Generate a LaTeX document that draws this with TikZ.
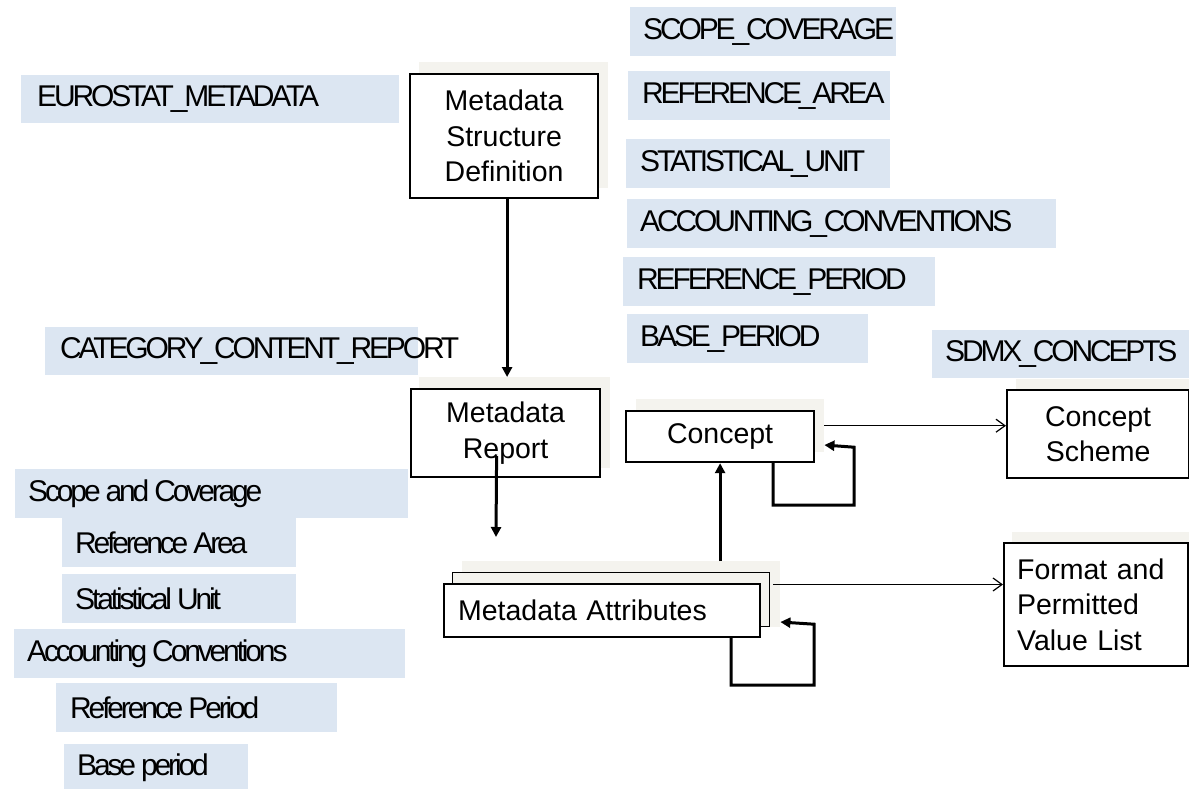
\documentclass[tikz,border=0pt]{standalone}
\usepackage{fontspec}
\setmainfont{Liberation Sans}
\newfontfamily\condfont[LetterSpace=-10.5]{Liberation Sans}
\usetikzlibrary{arrows.meta}
\definecolor{lblue}{HTML}{DCE6F2}
\definecolor{shad}{HTML}{F4F3EE}
\newcommand\wsp{\kern5pt}
\tikzset{
  lbl/.style={fill=lblue, anchor=north west, inner ysep=0pt, align=left, font=\condfont\fontsize{30}{34}\selectfont},
  shadowbox/.style={fill=shad, anchor=north west, inner sep=0pt},
  mainbox/.style={draw=black, fill=white, line width=2.2pt, anchor=north west, inner sep=0pt, align=center, font=\fontsize{28.5}{35.5}\selectfont},
  thk/.style={line width=3pt, -{Triangle[length=10pt,width=10pt]}},
  thn/.style={line width=1.2pt, -{Straight Barb[length=9pt,width=13pt]}},
}
\begin{document}
\begin{tikzpicture}[x=1pt,y=-1pt]
\useasboundingbox (0,0) rectangle (1189,788);
% label boxes
\node (eu) [lbl, inner xsep=16pt, text width=346pt, minimum height=48pt] at (21,75) {EUROSTAT\_METADATA};
\node (ccr) [lbl, inner xsep=15pt, text width=343pt, minimum height=48pt] at (45,327) {CATEGORY\_CONTENT\_REPORT};
\node (sc) [lbl, inner xsep=13pt, text width=240pt, minimum height=49pt] at (630,7) {SCOPE\_COVERAGE};
\node (ra) [lbl, inner xsep=14pt, text width=234pt, minimum height=49pt] at (628,71) {REFERENCE\_AREA};
\node (su) [lbl, inner xsep=14pt, text width=236pt, minimum height=49pt] at (626,139) {STATISTICAL\_UNIT};
\node (ac) [lbl, inner xsep=13pt, text width=403pt, minimum height=49pt] at (627,199) {ACCOUNTING\_CONVENTIONS};
\node (rp) [lbl, inner xsep=14pt, text width=284pt, minimum height=49pt] at (623,257) {REFERENCE\_PERIOD};
\node (bp) [lbl, inner xsep=13pt, text width=215pt, minimum height=49pt] at (627,314) {BASE\_PERIOD};
\node (sdmx) [lbl, inner xsep=13pt, text width=231pt, minimum height=48pt] at (932,330) {SDMX\_CONCEPTS};
\node (lsc) [lbl, inner xsep=13pt, text width=367pt, minimum height=49pt] at (15,469) {Scope\wsp and\wsp Coverage};
\node (lra) [lbl, inner xsep=13pt, text width=208pt, minimum height=49pt] at (62,518) {Reference\wsp Area};
\node (lsu) [lbl, inner xsep=13pt, text width=208pt, minimum height=49pt] at (62,574) {Statistical\wsp Unit};
\node (lac) [lbl, inner xsep=13pt, text width=365pt, minimum height=49pt] at (14,629) {Accounting\wsp Conventions};
\node (lrp) [lbl, inner xsep=14pt, text width=253pt, minimum height=49pt] at (56,683) {Reference\wsp Period};
\node (lbp) [lbl, inner xsep=13pt, text width=158pt, minimum height=48pt] at (64,744) {Base\wsp period};
% shadows
\node (msdsh) [shadowbox, minimum width=189pt, minimum height=126pt] at (419,62) {};
\node (repsh) [shadowbox, minimum width=191pt, minimum height=91pt] at (419,377) {};
\node (consh) [shadowbox, minimum width=188pt, minimum height=53pt] at (636,399) {};
\node (cssh) [shadowbox, minimum width=173pt, minimum height=88pt] at (1016,379) {};
\node (fmsh) [shadowbox, minimum width=177pt, minimum height=120pt] at (1012,532) {};
\node (attsh) [shadowbox, minimum width=318pt, minimum height=66pt] at (462,561) {};
% boxes
\node (msd) [mainbox, minimum width=188pt, minimum height=124pt] at (409,73) {Metadata\\Structure\\Definition};
\node (rep) [mainbox, minimum width=189pt, minimum height=88pt] at (410,388) {Metadata\\Report};
\node (con) [mainbox, minimum width=188pt, minimum height=51pt] at (625,410) {Concept};
\node (cs) [mainbox, minimum width=182pt, minimum height=88pt] at (1006,389) {Concept\\Scheme};
\node (fm) [mainbox, minimum width=184pt, minimum height=123pt, align=left, inner xsep=13pt, text width=158pt] at (1003,542) {Format and\\Permitted\\Value List};
\node (attb) [draw=black, fill=shad, line width=1pt, anchor=north west, inner sep=0pt, minimum width=317pt, minimum height=54pt] at (452,572) {};
\node (att) [mainbox, minimum width=316pt, minimum height=53pt, align=left, inner xsep=14pt, text width=288pt] at (443,583) {Metadata Attributes};
% connectors
\draw[thk] ([xshift=3pt]msd.south) -- ([xshift=3pt]msd.south |- repsh.north);
\coordinate (repend) at (496,537);
\draw[thk] ([xshift=-9pt,yshift=-23pt]rep.center) -- (repend);
\draw[thk] (attsh.north -| con.south) -- (con.south);
\draw[thn] (consh.east) -- (consh.east -| cs.west);
\draw[thk] ([xshift=53pt]con.south) -- ++(0,42) -- ++(81,0) -- ++(0,-58) -- (consh.east |- 0,445);
\draw[thn] ([yshift=15pt]attb.east) ++(3,0) -- ([yshift=15pt]attb.east -| fm.west);
\draw[thk] ([xshift=129pt]att.south) -- ++(0,47) -- ++(83,0) -- ++(0,-61) -- (attsh.east |- 0,622);
\end{tikzpicture}
\end{document}
